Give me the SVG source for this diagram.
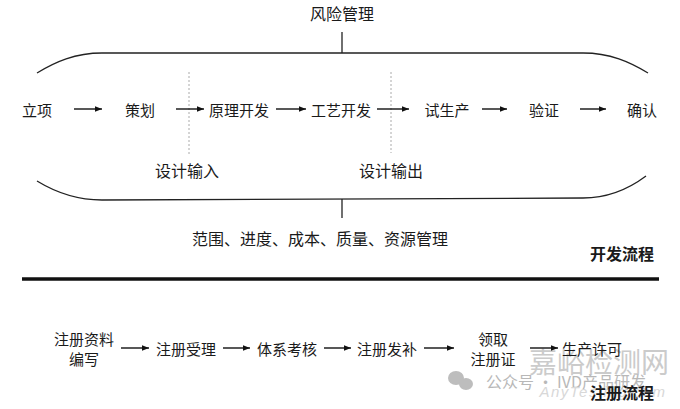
<svg xmlns="http://www.w3.org/2000/svg" width="680" height="409" viewBox="0 0 680 409">
<defs>
<marker id="ah" viewBox="0 0 10 10" refX="10" refY="5" markerWidth="7" markerHeight="7" markerUnits="userSpaceOnUse" orient="auto">
<path d="M0,1 L10,5 L0,9 Z" fill="#111"/>
</marker>
</defs>
<style>
text{font-family:"Noto Sans CJK SC","Noto Sans",sans-serif;fill:#1a1a1a;text-anchor:middle;dominant-baseline:central}
.s{font-size:15px}
.m{font-size:16px}
.b{font-size:16px;font-weight:bold}
.arr{stroke:#111;stroke-width:1.4;fill:none;marker-end:url(#ah)}
.ln{stroke:#222;stroke-width:1.3;fill:none}
.dash{stroke:#aaa;stroke-width:1;stroke-dasharray:2,2;fill:none}
.wm{fill:#cbcbcb}
</style>
<rect width="680" height="409" fill="#fff"/>

<g id="frame">
<path class="ln" d="M37,73 C55,62 75,53 102,53 L583,53 C610,53 630,62 648,73"/>
<path class="ln" d="M37,181 C55,192 75,200 102,200 L583,198 C610,198 630,188 646,176"/>
<line class="ln" x1="342" y1="32" x2="342" y2="53"/>
<line class="ln" x1="342" y1="199" x2="342" y2="218"/>
<line class="dash" x1="189" y1="72" x2="189" y2="155"/>
<line class="dash" x1="391" y1="72" x2="391" y2="153"/>
<line x1="22" y1="279" x2="659" y2="279" stroke="#111" stroke-width="3.5"/>
</g>

<g id="risk"><text class="m" x="342" y="13">风险管理</text></g>
<g id="mgmt"><text class="m" x="320" y="238">范围、进度、成本、质量、资源管理</text></g>
<g id="devflow"><text class="b" x="622" y="253">开发流程</text></g>

<g id="n1"><text class="s" x="37" y="109">立项</text></g>
<g id="n2"><text class="s" x="140" y="109">策划</text></g>
<g id="n3"><text class="s" x="239" y="109">原理开发</text></g>
<g id="n4"><text class="s" x="341" y="109">工艺开发</text></g>
<g id="n5"><text class="s" x="447" y="109">试生产</text></g>
<g id="n6"><text class="s" x="544" y="109">验证</text></g>
<g id="n7"><text class="s" x="642" y="109">确认</text></g>
<g id="di"><text class="m" x="187" y="170">设计输入</text></g>
<g id="do"><text class="m" x="391" y="170">设计输出</text></g>

<g id="watermark">
<text class="wm" x="599" y="361" style="font-size:28px">嘉峪检测网</text>
<ellipse cx="456" cy="378" rx="8" ry="7" fill="#bdbdbd"/>
<ellipse cx="466" cy="384" rx="7" ry="6" fill="#bdbdbd"/>
<text class="wm" x="566" y="381" style="font-size:16px;fill:#b8b8b8">公众号 · IVD产品研发</text>
<text class="wm" x="603" y="391" style="font-size:15px;font-style:italic;letter-spacing:1.5px;font-family:'Liberation Sans',sans-serif;fill:#d8d8d8">AnyTesting.com</text>
</g>

<g id="r1"><text class="s" x="84" y="338">注册资料</text><text class="s" x="84" y="358">编写</text></g>
<g id="r2"><text class="s" x="186" y="348">注册受理</text></g>
<g id="r3"><text class="s" x="287" y="348">体系考核</text></g>
<g id="r4"><text class="s" x="387" y="348">注册发补</text></g>
<g id="r5"><text class="s" x="493" y="338">领取</text><text class="s" x="493" y="358">注册证</text></g>
<g id="r6"><text class="s" x="592" y="348">生产许可</text></g>
<g id="regflow"><text class="b" x="622" y="392">注册流程</text></g>

<g id="connectors">
<line class="arr" x1="74" y1="109" x2="102" y2="109"/>
<line class="arr" x1="176" y1="109" x2="204" y2="109"/>
<line class="arr" x1="276" y1="109" x2="306" y2="109"/>
<line class="arr" x1="377" y1="109" x2="409" y2="109"/>
<line class="arr" x1="482" y1="109" x2="507" y2="109"/>
<line class="arr" x1="580" y1="109" x2="606" y2="109"/>
<line class="arr" x1="121" y1="348" x2="149" y2="348"/>
<line class="arr" x1="223" y1="348" x2="250" y2="348"/>
<line class="arr" x1="324" y1="348" x2="351" y2="348"/>
<line class="arr" x1="424" y1="348" x2="454" y2="348"/>
<line class="arr" x1="530" y1="348" x2="558" y2="348"/>
</g>
</svg>
